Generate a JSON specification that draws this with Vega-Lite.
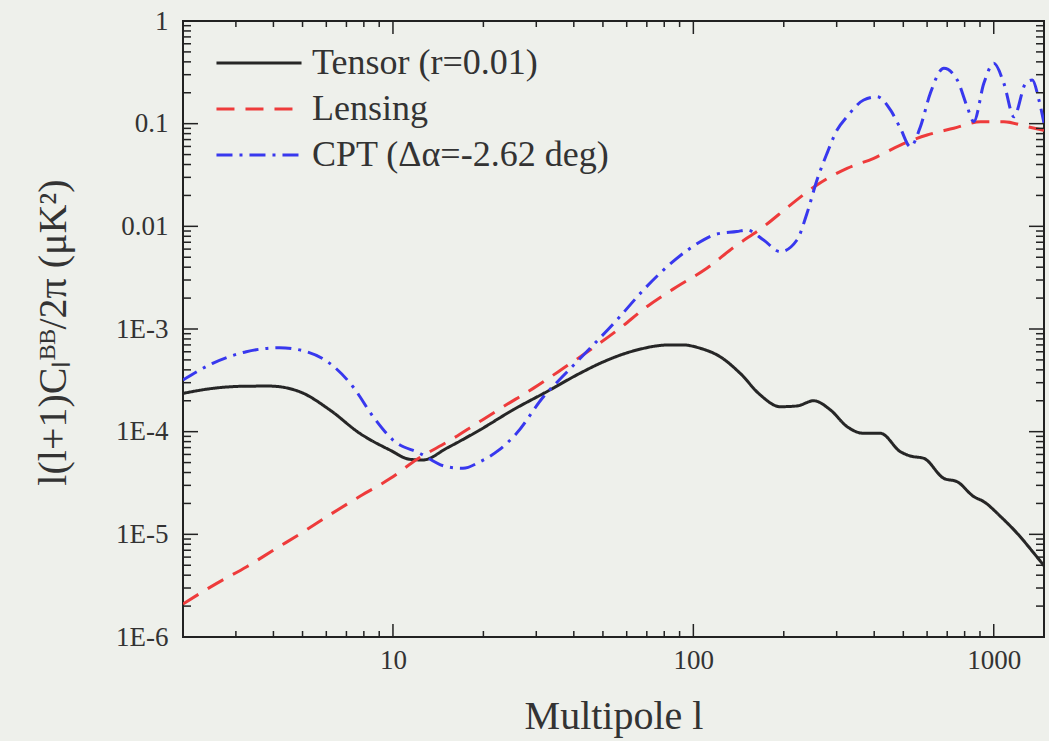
{
  "$schema": "https://vega.github.io/schema/vega-lite/v6.json",
  "width": 861,
  "height": 616,
  "autosize": "none",
  "padding": {"left": 183, "top": 21, "right": 5, "bottom": 104},
  "background": "#eef0eb",
  "config": {
    "view": {"stroke": "#222222", "strokeWidth": 2},
    "font": "Liberation Serif",
    "axis": {
      "grid": false, "domain": false, "ticks": false, "zindex": 1,
      "labelFont": "Liberation Serif", "labelFontSize": 27, "labelColor": "#333333",
      "titleFont": "Liberation Serif", "titleColor": "#333333", "titleFontSize": 40, "titleFontWeight": "normal"
    },
    "tick": {"color": "#222222", "thickness": 1.5, "opacity": 1},
    "legend": {
      "orient": "none", "legendX": 58, "legendY": 24, "padding": 0,
      "symbolType": "M-4,0H4", "symbolSize": 452, "symbolStrokeWidth": 3,
      "labelFont": "Liberation Serif", "labelFontSize": 36, "labelColor": "#333333",
      "labelOffset": 35, "rowPadding": 10, "labelLimit": 500
    }
  },
  "datasets": {
    "xmaj": [{"l": 10}, {"l": 100}, {"l": 1000}],
    "xmin": [{"l": 3}, {"l": 4}, {"l": 5}, {"l": 6}, {"l": 7}, {"l": 8}, {"l": 9}, {"l": 20}, {"l": 30}, {"l": 40}, {"l": 50}, {"l": 60}, {"l": 70}, {"l": 80}, {"l": 90}, {"l": 200}, {"l": 300}, {"l": 400}, {"l": 500}, {"l": 600}, {"l": 700}, {"l": 800}, {"l": 900}],
    "ymaj": [{"v": 0.000001}, {"v": 0.00001}, {"v": 0.0001}, {"v": 0.001}, {"v": 0.01}, {"v": 0.1}, {"v": 1}],
    "ymin": [{"v": 0.000002}, {"v": 0.000003}, {"v": 0.000004}, {"v": 0.000005}, {"v": 0.000006}, {"v": 0.000007}, {"v": 0.000008}, {"v": 0.000009}, {"v": 0.00002}, {"v": 0.00003}, {"v": 0.00004}, {"v": 0.00005}, {"v": 0.00006}, {"v": 0.00007}, {"v": 0.00008}, {"v": 0.00009}, {"v": 0.0002}, {"v": 0.0003}, {"v": 0.0004}, {"v": 0.0005}, {"v": 0.0006}, {"v": 0.0007}, {"v": 0.0008}, {"v": 0.0009}, {"v": 0.002}, {"v": 0.003}, {"v": 0.004}, {"v": 0.005}, {"v": 0.006}, {"v": 0.007}, {"v": 0.008}, {"v": 0.009}, {"v": 0.02}, {"v": 0.03}, {"v": 0.04}, {"v": 0.05}, {"v": 0.06}, {"v": 0.07}, {"v": 0.08}, {"v": 0.09}, {"v": 0.2}, {"v": 0.3}, {"v": 0.4}, {"v": 0.5}, {"v": 0.6}, {"v": 0.7}, {"v": 0.8}, {"v": 0.9}],
    "c": [
      {"s": "Tensor (r=0.01)", "l": 2, "v": 0.000236},
      {"s": "Tensor (r=0.01)", "l": 2.51, "v": 0.000264},
      {"s": "Tensor (r=0.01)", "l": 3.2, "v": 0.000277},
      {"s": "Tensor (r=0.01)", "l": 3.88, "v": 0.000278},
      {"s": "Tensor (r=0.01)", "l": 4.89, "v": 0.000245},
      {"s": "Tensor (r=0.01)", "l": 6.16, "v": 0.000163},
      {"s": "Tensor (r=0.01)", "l": 7.75, "v": 0.0000964},
      {"s": "Tensor (r=0.01)", "l": 9.76, "v": 0.0000663},
      {"s": "Tensor (r=0.01)", "l": 11.38, "v": 0.0000538},
      {"s": "Tensor (r=0.01)", "l": 12.6, "v": 0.000053},
      {"s": "Tensor (r=0.01)", "l": 15.08, "v": 0.0000689},
      {"s": "Tensor (r=0.01)", "l": 19.47, "v": 0.000104},
      {"s": "Tensor (r=0.01)", "l": 25.1, "v": 0.000163},
      {"s": "Tensor (r=0.01)", "l": 32.5, "v": 0.000245},
      {"s": "Tensor (r=0.01)", "l": 41.9, "v": 0.00037},
      {"s": "Tensor (r=0.01)", "l": 48.9, "v": 0.000463},
      {"s": "Tensor (r=0.01)", "l": 64.8, "v": 0.000624},
      {"s": "Tensor (r=0.01)", "l": 81.6, "v": 0.000698},
      {"s": "Tensor (r=0.01)", "l": 92, "v": 0.0007},
      {"s": "Tensor (r=0.01)", "l": 105.4, "v": 0.000649},
      {"s": "Tensor (r=0.01)", "l": 122.8, "v": 0.000537},
      {"s": "Tensor (r=0.01)", "l": 143.2, "v": 0.00037},
      {"s": "Tensor (r=0.01)", "l": 167, "v": 0.000228},
      {"s": "Tensor (r=0.01)", "l": 194.6, "v": 0.000175},
      {"s": "Tensor (r=0.01)", "l": 221.3, "v": 0.000178},
      {"s": "Tensor (r=0.01)", "l": 251.4, "v": 0.0002},
      {"s": "Tensor (r=0.01)", "l": 285.8, "v": 0.000163},
      {"s": "Tensor (r=0.01)", "l": 324.8, "v": 0.000112},
      {"s": "Tensor (r=0.01)", "l": 369, "v": 0.0000964},
      {"s": "Tensor (r=0.01)", "l": 419.5, "v": 0.0000964},
      {"s": "Tensor (r=0.01)", "l": 489, "v": 0.0000638},
      {"s": "Tensor (r=0.01)", "l": 528, "v": 0.0000579},
      {"s": "Tensor (r=0.01)", "l": 585, "v": 0.000055},
      {"s": "Tensor (r=0.01)", "l": 682, "v": 0.0000351},
      {"s": "Tensor (r=0.01)", "l": 756, "v": 0.0000325},
      {"s": "Tensor (r=0.01)", "l": 858, "v": 0.0000233},
      {"s": "Tensor (r=0.01)", "l": 927, "v": 0.0000208},
      {"s": "Tensor (r=0.01)", "l": 1054, "v": 0.0000149},
      {"s": "Tensor (r=0.01)", "l": 1198, "v": 0.0000102},
      {"s": "Tensor (r=0.01)", "l": 1361, "v": 0.00000654},
      {"s": "Tensor (r=0.01)", "l": 1470, "v": 0.00000495},
      {"s": "Lensing", "l": 2, "v": 0.0000021},
      {"s": "Lensing", "l": 2.59, "v": 0.00000333},
      {"s": "Lensing", "l": 3.26, "v": 0.00000484},
      {"s": "Lensing", "l": 4.01, "v": 0.00000704},
      {"s": "Lensing", "l": 5.04, "v": 0.0000106},
      {"s": "Lensing", "l": 6.27, "v": 0.000016},
      {"s": "Lensing", "l": 7.79, "v": 0.0000236},
      {"s": "Lensing", "l": 9.81, "v": 0.0000351},
      {"s": "Lensing", "l": 12.03, "v": 0.0000538},
      {"s": "Lensing", "l": 15.55, "v": 0.0000829},
      {"s": "Lensing", "l": 19.07, "v": 0.000121},
      {"s": "Lensing", "l": 23.3, "v": 0.000175},
      {"s": "Lensing", "l": 29.3, "v": 0.000264},
      {"s": "Lensing", "l": 36.9, "v": 0.000414},
      {"s": "Lensing", "l": 45.3, "v": 0.000624},
      {"s": "Lensing", "l": 57, "v": 0.00102},
      {"s": "Lensing", "l": 70, "v": 0.00165},
      {"s": "Lensing", "l": 88.1, "v": 0.00258},
      {"s": "Lensing", "l": 110.9, "v": 0.0039},
      {"s": "Lensing", "l": 136, "v": 0.00622},
      {"s": "Lensing", "l": 171.3, "v": 0.00992},
      {"s": "Lensing", "l": 210.2, "v": 0.0161},
      {"s": "Lensing", "l": 258, "v": 0.0253},
      {"s": "Lensing", "l": 324.8, "v": 0.0367},
      {"s": "Lensing", "l": 398.6, "v": 0.046},
      {"s": "Lensing", "l": 489, "v": 0.0619},
      {"s": "Lensing", "l": 600, "v": 0.0775},
      {"s": "Lensing", "l": 736, "v": 0.0901},
      {"s": "Lensing", "l": 904, "v": 0.1045},
      {"s": "Lensing", "l": 1081, "v": 0.1045},
      {"s": "Lensing", "l": 1293, "v": 0.0934},
      {"s": "Lensing", "l": 1470, "v": 0.086},
      {"s": "CPT (Δα=-2.62 deg)", "l": 2, "v": 0.000319},
      {"s": "CPT (Δα=-2.62 deg)", "l": 2.51, "v": 0.000463},
      {"s": "CPT (Δα=-2.62 deg)", "l": 3.25, "v": 0.000601},
      {"s": "CPT (Δα=-2.62 deg)", "l": 4.19, "v": 0.000657},
      {"s": "CPT (Δα=-2.62 deg)", "l": 5.15, "v": 0.000601},
      {"s": "CPT (Δα=-2.62 deg)", "l": 6.16, "v": 0.000463},
      {"s": "CPT (Δα=-2.62 deg)", "l": 7.36, "v": 0.000274},
      {"s": "CPT (Δα=-2.62 deg)", "l": 8.59, "v": 0.00014},
      {"s": "CPT (Δα=-2.62 deg)", "l": 10, "v": 0.0000829},
      {"s": "CPT (Δα=-2.62 deg)", "l": 12.29, "v": 0.0000615},
      {"s": "CPT (Δα=-2.62 deg)", "l": 15.08, "v": 0.0000456},
      {"s": "CPT (Δα=-2.62 deg)", "l": 17.1, "v": 0.000044},
      {"s": "CPT (Δα=-2.62 deg)", "l": 19.5, "v": 0.000051},
      {"s": "CPT (Δα=-2.62 deg)", "l": 22.5, "v": 0.000066},
      {"s": "CPT (Δα=-2.62 deg)", "l": 25.8, "v": 0.0000964},
      {"s": "CPT (Δα=-2.62 deg)", "l": 31.7, "v": 0.000219},
      {"s": "CPT (Δα=-2.62 deg)", "l": 36.9, "v": 0.00035},
      {"s": "CPT (Δα=-2.62 deg)", "l": 45.3, "v": 0.000649},
      {"s": "CPT (Δα=-2.62 deg)", "l": 55.6, "v": 0.00122},
      {"s": "CPT (Δα=-2.62 deg)", "l": 68.2, "v": 0.0024},
      {"s": "CPT (Δα=-2.62 deg)", "l": 79.5, "v": 0.00375},
      {"s": "CPT (Δα=-2.62 deg)", "l": 97.6, "v": 0.00611},
      {"s": "CPT (Δα=-2.62 deg)", "l": 119.8, "v": 0.00842},
      {"s": "CPT (Δα=-2.62 deg)", "l": 139.6, "v": 0.0089},
      {"s": "CPT (Δα=-2.62 deg)", "l": 150.8, "v": 0.00921},
      {"s": "CPT (Δα=-2.62 deg)", "l": 171.3, "v": 0.00736},
      {"s": "CPT (Δα=-2.62 deg)", "l": 194.6, "v": 0.00566},
      {"s": "CPT (Δα=-2.62 deg)", "l": 221.3, "v": 0.00736},
      {"s": "CPT (Δα=-2.62 deg)", "l": 239, "v": 0.0134},
      {"s": "CPT (Δα=-2.62 deg)", "l": 258, "v": 0.0283},
      {"s": "CPT (Δα=-2.62 deg)", "l": 278.6, "v": 0.0514},
      {"s": "CPT (Δα=-2.62 deg)", "l": 300.9, "v": 0.0867},
      {"s": "CPT (Δα=-2.62 deg)", "l": 324.8, "v": 0.117},
      {"s": "CPT (Δα=-2.62 deg)", "l": 369, "v": 0.17},
      {"s": "CPT (Δα=-2.62 deg)", "l": 409, "v": 0.183},
      {"s": "CPT (Δα=-2.62 deg)", "l": 453, "v": 0.136},
      {"s": "CPT (Δα=-2.62 deg)", "l": 489, "v": 0.0901},
      {"s": "CPT (Δα=-2.62 deg)", "l": 528, "v": 0.0596},
      {"s": "CPT (Δα=-2.62 deg)", "l": 570, "v": 0.0934},
      {"s": "CPT (Δα=-2.62 deg)", "l": 615, "v": 0.198},
      {"s": "CPT (Δα=-2.62 deg)", "l": 682, "v": 0.346},
      {"s": "CPT (Δα=-2.62 deg)", "l": 756, "v": 0.266},
      {"s": "CPT (Δα=-2.62 deg)", "l": 816, "v": 0.146},
      {"s": "CPT (Δα=-2.62 deg)", "l": 858, "v": 0.1045},
      {"s": "CPT (Δα=-2.62 deg)", "l": 927, "v": 0.247},
      {"s": "CPT (Δα=-2.62 deg)", "l": 1001, "v": 0.387},
      {"s": "CPT (Δα=-2.62 deg)", "l": 1081, "v": 0.247},
      {"s": "CPT (Δα=-2.62 deg)", "l": 1167, "v": 0.117},
      {"s": "CPT (Δα=-2.62 deg)", "l": 1277, "v": 0.247},
      {"s": "CPT (Δα=-2.62 deg)", "l": 1344, "v": 0.266},
      {"s": "CPT (Δα=-2.62 deg)", "l": 1414, "v": 0.17},
      {"s": "CPT (Δα=-2.62 deg)", "l": 1470, "v": 0.101}
    ]
  },
  "layer": [
    {
      "data": {"name": "c"},
      "mark": {"type": "line", "interpolate": "monotone", "strokeWidth": 3, "clip": true},
      "encoding": {
        "x": {
          "field": "l", "type": "quantitative",
          "scale": {"type": "log", "domain": [2, 1470], "nice": false},
          "axis": {"orient": "bottom", "values": [10, 100, 1000], "format": "d", "labelPadding": 10, "labelFlush": false,
                   "title": "Multipole l", "titleY": 91, "titleBaseline": "alphabetic"}
        },
        "y": {
          "field": "v", "type": "quantitative",
          "scale": {"type": "log", "domain": [0.000001, 1], "nice": false},
          "axis": {"orient": "left", "values": [0.000001, 0.00001, 0.0001, 0.001, 0.01, 0.1, 1], "labelPadding": 15,
                   "labelFlush": false, "labelOverlap": false,
                   "labelExpr": "datum.value >= 0.5 ? '1' : datum.value >= 0.05 ? '0.1' : datum.value >= 0.005 ? '0.01' : '1E' + round(log(datum.value) / LN10)",
                   "title": "l(l+1)Cₗᴮᴮ/2π (μK²)", "titleX": -118, "titleY": 311, "titleAngle": -90, "titleAlign": "center", "titleBaseline": "alphabetic"}
        },
        "color": {
          "field": "s", "type": "nominal", "title": null,
          "scale": {"domain": ["Tensor (r=0.01)", "Lensing", "CPT (Δα=-2.62 deg)"], "range": ["#262626", "#ee3b3b", "#3838ee"]}
        },
        "strokeDash": {
          "field": "s", "type": "nominal", "title": null,
          "scale": {"domain": ["Tensor (r=0.01)", "Lensing", "CPT (Δα=-2.62 deg)"], "range": [[1, 0], [18, 11], [16, 7, 3, 7]]}
        }
      }
    },
    {
      "data": {"name": "xmaj"},
      "mark": {"type": "tick", "orient": "vertical", "size": 13, "yOffset": -6.5},
      "encoding": {
        "x": {"field": "l", "type": "quantitative"},
        "y": {"datum": 0.000001, "type": "quantitative"}
      }
    },
    {
      "data": {"name": "xmaj"},
      "mark": {"type": "tick", "orient": "vertical", "size": 13, "yOffset": 6.5},
      "encoding": {
        "x": {"field": "l", "type": "quantitative"},
        "y": {"datum": 1, "type": "quantitative"}
      }
    },
    {
      "data": {"name": "xmin"},
      "mark": {"type": "tick", "orient": "vertical", "size": 6, "yOffset": -3},
      "encoding": {
        "x": {"field": "l", "type": "quantitative"},
        "y": {"datum": 0.000001, "type": "quantitative"}
      }
    },
    {
      "data": {"name": "xmin"},
      "mark": {"type": "tick", "orient": "vertical", "size": 6, "yOffset": 3},
      "encoding": {
        "x": {"field": "l", "type": "quantitative"},
        "y": {"datum": 1, "type": "quantitative"}
      }
    },
    {
      "data": {"name": "ymaj"},
      "mark": {"type": "tick", "orient": "horizontal", "size": 15, "xOffset": 7.5},
      "encoding": {
        "y": {"field": "v", "type": "quantitative"},
        "x": {"datum": 2, "type": "quantitative"}
      }
    },
    {
      "data": {"name": "ymaj"},
      "mark": {"type": "tick", "orient": "horizontal", "size": 15, "xOffset": -7.5},
      "encoding": {
        "y": {"field": "v", "type": "quantitative"},
        "x": {"datum": 1470, "type": "quantitative"}
      }
    },
    {
      "data": {"name": "ymin"},
      "mark": {"type": "tick", "orient": "horizontal", "size": 8, "xOffset": 4},
      "encoding": {
        "y": {"field": "v", "type": "quantitative"},
        "x": {"datum": 2, "type": "quantitative"}
      }
    },
    {
      "data": {"name": "ymin"},
      "mark": {"type": "tick", "orient": "horizontal", "size": 8, "xOffset": -4},
      "encoding": {
        "y": {"field": "v", "type": "quantitative"},
        "x": {"datum": 1470, "type": "quantitative"}
      }
    }
  ]
}
